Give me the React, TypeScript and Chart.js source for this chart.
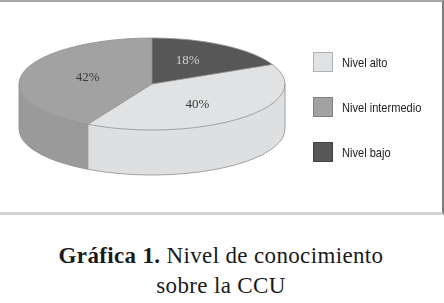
import React, { useEffect, useRef } from "react";
import { Chart, registerables } from "chart.js";

Chart.register(...registerables);

const categories = ["Nivel alto", "Nivel intermedio", "Nivel bajo"];
const percentages = [40, 42, 18];
const topColors = ["#e1e2e4", "#a2a2a2", "#575757"];
const sideColors = ["#dedfe1", "#9a9a9a", "#4d4d4d"];
const labelColors = ["#3a3a3a", "#3a3a3a", "#cfcfcf"];
const captionBold = "Gráfica 1.";
const captionRest = " Nivel de conocimiento";
const captionLine2 = "sobre la CCU";

const GEOM = { cx: 152, cy: 84, rx: 133, ry: 46, depth: 45 };

function visibleRanges(s: number, e: number): [number, number][] {
  const out: [number, number][] = [];
  const TWO = Math.PI * 2;
  for (let k = -2; k <= 2; k++) {
    const lo = k * TWO;
    const hi = k * TWO + Math.PI;
    const a = Math.max(s, lo);
    const b = Math.min(e, hi);
    if (b > a) out.push([a, b]);
  }
  return out;
}

const pie3d = {
  id: "pie3d",
  beforeDatasetsDraw(chart: any) {
    const ctx = chart.ctx as CanvasRenderingContext2D;
    const arcs = chart.getDatasetMeta(0).data as any[];
    if (!arcs.length) return;
    const { cx, cy, rx, ry, depth } = GEOM;
    ctx.save();
    arcs.forEach((arc: any, i: number) => {
      visibleRanges(arc.startAngle, arc.endAngle).forEach(([s, e]) => {
        ctx.beginPath();
        ctx.ellipse(cx, cy, rx, ry, 0, s, e);
        ctx.ellipse(cx, cy + depth, rx, ry, 0, e, s, true);
        ctx.closePath();
        ctx.fillStyle = sideColors[i];
        ctx.fill();
      });
    });
    ctx.restore();
    const a0 = arcs[0];
    const R = a0.outerRadius;
    ctx.save();
    ctx.translate(cx, cy);
    ctx.scale(rx / R, ry / R);
    ctx.translate(-a0.x, -a0.y);
  },
  afterDatasetsDraw(chart: any) {
    const ctx = chart.ctx as CanvasRenderingContext2D;
    const arcs = chart.getDatasetMeta(0).data as any[];
    if (!arcs.length) return;
    ctx.restore();
    const { cx, cy, rx, ry, depth } = GEOM;
    ctx.save();
    ctx.strokeStyle = "#8e8e8e";
    ctx.lineWidth = 0.8;
    ctx.beginPath();
    ctx.ellipse(cx, cy, rx, ry, 0, 0, Math.PI * 2);
    ctx.stroke();
    ctx.beginPath();
    ctx.ellipse(cx, cy + depth, rx, ry, 0, 0, Math.PI);
    ctx.stroke();
    ctx.beginPath();
    ctx.moveTo(cx + rx, cy);
    ctx.lineTo(cx + rx, cy + depth);
    ctx.moveTo(cx - rx, cy);
    ctx.lineTo(cx - rx, cy + depth);
    ctx.stroke();
    arcs.forEach((arc: any) => {
      const a = arc.startAngle;
      const px = cx + rx * Math.cos(a);
      const py = cy + ry * Math.sin(a);
      ctx.beginPath();
      ctx.moveTo(cx, cy);
      ctx.lineTo(px, py);
      const n = ((a % (Math.PI * 2)) + Math.PI * 2) % (Math.PI * 2);
      if (n > 0.01 && n < Math.PI - 0.01) {
        ctx.moveTo(px, py);
        ctx.lineTo(px, py + depth);
      }
      ctx.stroke();
    });
    ctx.font = "13px 'Liberation Serif', serif";
    ctx.textAlign = "center";
    ctx.textBaseline = "middle";
    arcs.forEach((arc: any, i: number) => {
      const m = (arc.startAngle + arc.endAngle) / 2;
      const x = cx + rx * 0.5 * Math.cos(m);
      const y = cy + ry * 0.6 * Math.sin(m);
      ctx.fillStyle = labelColors[i];
      ctx.fillText(percentages[i] + "%", x, y);
    });
    ctx.restore();
  },
};

export default function App() {
  const ref = useRef<HTMLCanvasElement | null>(null);
  useEffect(() => {
    if (!ref.current) return;
    const chart = new Chart(ref.current, {
      type: "pie",
      data: {
        labels: categories,
        datasets: [
          {
            data: percentages,
            backgroundColor: topColors,
            borderWidth: 0,
            clip: false as any,
          } as any,
        ],
      },
      options: {
        animation: false,
        responsive: false,
        rotation: 64.8,
        layout: { padding: { left: 0, right: 144, top: 0, bottom: 0 } },
        plugins: {
          legend: { display: false },
          tooltip: { enabled: false },
        },
        events: [],
      },
      plugins: [pie3d],
    });
    return () => chart.destroy();
  }, []);

  return (
    <div style={{ position: "absolute", left: 0, top: 0, width: 444, height: 303, background: "#fff", overflow: "hidden" }}>
      <div
        style={{
          position: "absolute",
          left: 0,
          top: 0,
          width: 444,
          height: 215,
          boxSizing: "border-box",
          borderTop: "2px solid #a8a8a8",
          borderRight: "2px solid #7c7c7c",
          borderBottom: "3px solid #d4d4d4",
        }}
      />
      <canvas ref={ref} width={444} height={213} style={{ position: "absolute", left: 0, top: 0, width: 444, height: 213 }} />
      {categories.map((c, i) => (
        <div key={c} style={{ position: "absolute", left: 313, top: 52 + i * 45, height: 20, display: "flex", alignItems: "center" }}>
          <div style={{ width: 20, height: 20, boxSizing: "border-box", background: topColors[i], border: "1px solid rgba(0,0,0,0.22)" }} />
          <div
            style={{
              marginLeft: 9,
              font: "13.5px 'Liberation Sans', sans-serif",
              color: "#222",
              whiteSpace: "nowrap",
              transform: "scaleX(0.82)",
              transformOrigin: "left center",
            }}
          >
            {c}
          </div>
        </div>
      ))}
      <div
        style={{
          position: "absolute",
          left: 0,
          top: 241,
          width: 442,
          textAlign: "center",
          font: "23px 'Liberation Serif', serif",
          letterSpacing: "0.35px",
          lineHeight: "30px",
          color: "#1a1a1a",
        }}
      >
        <div>
          <b>{captionBold}</b>
          {captionRest}
        </div>
        <div>{captionLine2}</div>
      </div>
    </div>
  );
}
